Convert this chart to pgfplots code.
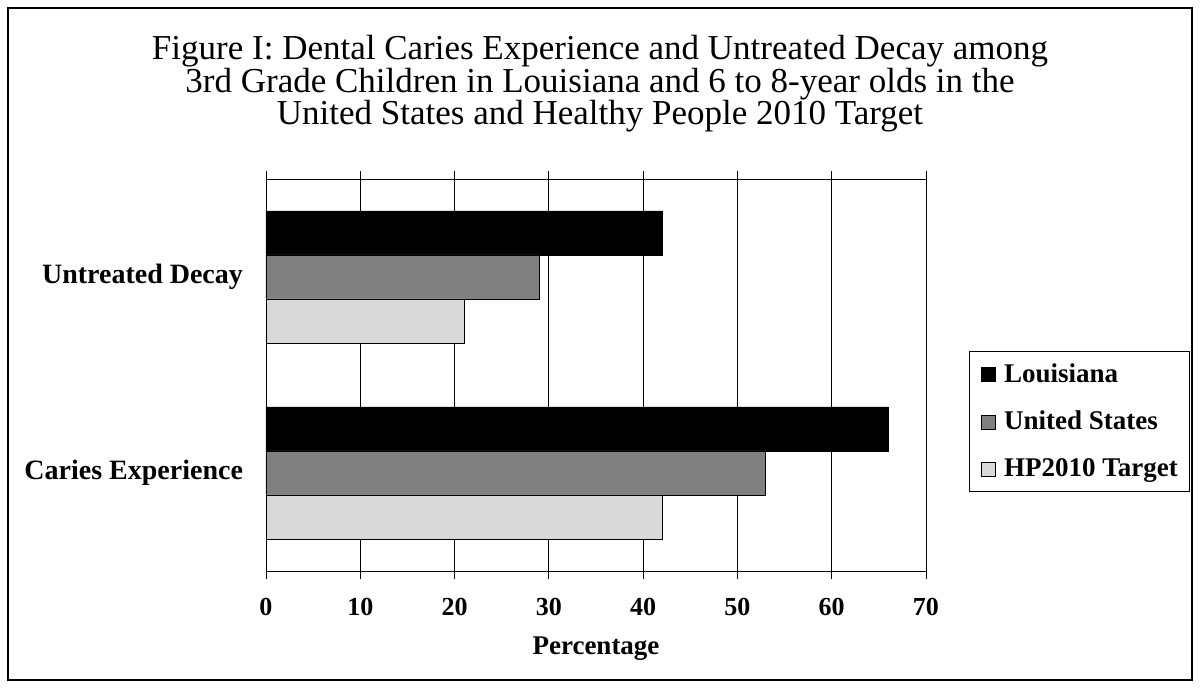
\documentclass[border=0pt]{standalone}
\usepackage{pgfplots}
\pgfplotsset{compat=1.18}
\usepackage{fontspec}
\setmainfont{Liberation Serif}
\definecolor{usgray}{RGB}{128,128,128}
\definecolor{hpgray}{RGB}{217,217,217}
\begin{document}
\begin{tikzpicture}
\path[use as bounding box] (0,0) rectangle (600pt,344pt);
\draw[line width=1.3pt] (4pt,4pt) rectangle (596pt,340pt);
\node[align=center, font=\fontsize{17.5}{16.25}\selectfont] at (300pt,302pt)
  {Figure I: Dental Caries Experience and Untreated Decay among\\
   3rd Grade Children in Louisiana and 6 to 8-year olds in the\\
   United States and Healthy People 2010 Target};
\begin{axis}[
  at={(133pt,58.5pt)}, anchor=south west,
  scale only axis, width=330pt, height=196pt,
  xbar, bar width=22pt,
  xmin=0, xmax=70, ymin=-0.5, ymax=1.5,
  xtick={0,10,...,70},
  ytick={0,1},
  yticklabels={Caries Experience, Untreated Decay},
  ytick style={draw=none},
  xtick style={black, thin},
  xtick align=outside,
  major tick length=4pt,
  xmajorgrids, grid style={black, thin},
  axis line style={black, thin},
  /pgf/number format/assume math mode=true,
  xticklabel style={font=\bfseries\fontsize{13}{15}\selectfont, yshift=-6pt},
  yticklabel style={font=\bfseries\fontsize{14}{16}\selectfont, xshift=-4pt},
  xlabel={Percentage},
  xlabel style={font=\bfseries\fontsize{13.5}{15}\selectfont, yshift=-3.5pt},
  legend style={at={(1.065,0.561)}, anchor=north west, draw=black, thin,
    font=\bfseries\fontsize{13.5}{15}\selectfont,
    row sep=9pt, inner xsep=4pt, inner ysep=4pt},
  legend cell align=left,
  legend image code/.code={\draw[#1,draw=black,thin] (2pt,-3.5pt) rectangle (9pt,3.5pt); \path (0pt,0pt) (11pt,0pt);},
]
\addplot[fill=black, draw=black, bar shift=22pt] coordinates {(66,0) (42,1)};
\addplot[fill=usgray, draw=black, bar shift=0pt] coordinates {(53,0) (29,1)};
\addplot[fill=hpgray, draw=black, bar shift=-22pt] coordinates {(42,0) (21,1)};
\legend{Louisiana, United States, HP2010 Target}
\end{axis}
\end{tikzpicture}
\end{document}
